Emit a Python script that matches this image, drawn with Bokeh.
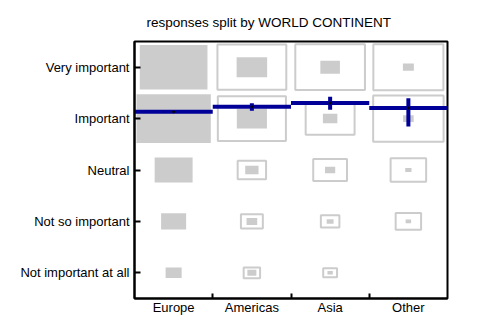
from bokeh.plotting import figure
from bokeh.models import FixedTicker, Range1d
from bokeh.embed import file_html
from bokeh.resources import INLINE

continents = ["Europe", "Americas", "Asia", "Other"]
# response levels, bottom to top (score 1..5)
levels = ["Not important at all", "Not so important", "Neutral", "Important", "Very important"]

# relative size (fraction of cell) of the filled box: per continent, levels bottom -> top
observed = {
    "Europe":   [0.205, 0.32, 0.485, 0.95, 0.865],
    "Americas": [0.115, 0.136, 0.17, 0.385, 0.39],
    "Asia":     [0.068, 0.088, 0.13, 0.185, 0.25],
    "Other":    [0.0, 0.07, 0.08, 0.135, 0.14],
}
# relative size of the outlined reference box
reference = {
    "Europe":   [0.0, 0.0, 0.0, 0.0, 0.0],
    "Americas": [0.21, 0.28, 0.363, 0.87, 0.88],
    "Asia":     [0.177, 0.237, 0.432, 0.625, 0.89],
    "Other":    [0.0, 0.325, 0.454, 0.9, 0.895],
}
# mean score per continent with interval
mean_score = [4.132, 4.230, 4.303, 4.206]
ci_low = [4.115, 4.154, 4.171, 3.846]
ci_high = [4.150, 4.300, 4.424, 4.397]

FONT = "Liberation Sans"
BLUE = "#000099"
GREY = "#cccccc"

p = figure(frame_width=313, frame_height=257,
           x_range=Range1d(0, 4), y_range=Range1d(0.5, 5.5),
           output_backend="svg", toolbar_location=None,
           min_border_left=134, min_border_top=40, min_border_right=20,
           min_border_bottom=14)

p.title.text = "responses split by WORLD CONTINENT"
p.title.align = "left"
p.title.offset = 12
p.title.text_font = FONT
p.title.text_font_size = "13.5px"
p.title.text_font_style = "normal"
p.title.text_color = "black"
p.title.standoff = 24

# boxes
ox, oy, os_ = [], [], []
rx, ry, rs = [], [], []
for ci, c in enumerate(continents):
    for li in range(len(levels)):
        if reference[c][li] > 0:
            rx.append(ci + 0.5); ry.append(li + 1); rs.append(reference[c][li])
        if observed[c][li] > 0:
            ox.append(ci + 0.5); oy.append(li + 1); os_.append(observed[c][li])

p.rect(x=rx, y=ry, width=rs, height=rs, fill_color=None, line_color=GREY, line_width=2)
p.rect(x=ox, y=oy, width=os_, height=os_, fill_color=GREY, line_color=None)

idx = list(range(len(continents)))
p.segment(x0=[i for i in idx], x1=[i + 1 for i in idx], y0=mean_score, y1=mean_score,
          line_color=BLUE, line_width=4)
p.segment(x0=[i + 0.5 for i in idx], x1=[i + 0.5 for i in idx], y0=ci_low, y1=ci_high,
          line_color=BLUE, line_width=4)
p.scatter(x=[i + 0.5 for i in idx], y=mean_score, size=2, color="black")

p.grid.visible = False
p.outline_line_color = "black"
p.outline_line_width = 2
p.outline_line_alpha = 1

for ax in (p.xaxis[0], p.yaxis[0]):
    ax.axis_line_color = "black"
    ax.axis_line_width = 2
    ax.major_label_text_font = FONT
    ax.major_label_text_font_size = "13px"
    ax.major_label_text_color = "black"
    ax.major_tick_line_color = "black"
    ax.major_tick_line_width = 2
    ax.minor_tick_line_color = "black"
    ax.minor_tick_line_width = 2

p.yaxis.ticker = FixedTicker(ticks=[1, 2, 3, 4, 5])
p.yaxis.major_label_overrides = {i + 1: lab for i, lab in enumerate(levels)}
p.yaxis.major_tick_in = 6
p.yaxis.major_tick_out = 0
p.yaxis.major_label_standoff = 5

p.xaxis.ticker = FixedTicker(ticks=[i + 0.5 for i in idx], minor_ticks=[1, 2, 3])
p.xaxis.major_label_overrides = {i + 0.5: c for i, c in enumerate(continents)}
p.xaxis.major_tick_in = 0
p.xaxis.major_tick_out = 0
p.xaxis.minor_tick_in = 5
p.xaxis.minor_tick_out = 0
p.xaxis.major_label_standoff = 1

open("out.html", "w").write(file_html(p, INLINE))
